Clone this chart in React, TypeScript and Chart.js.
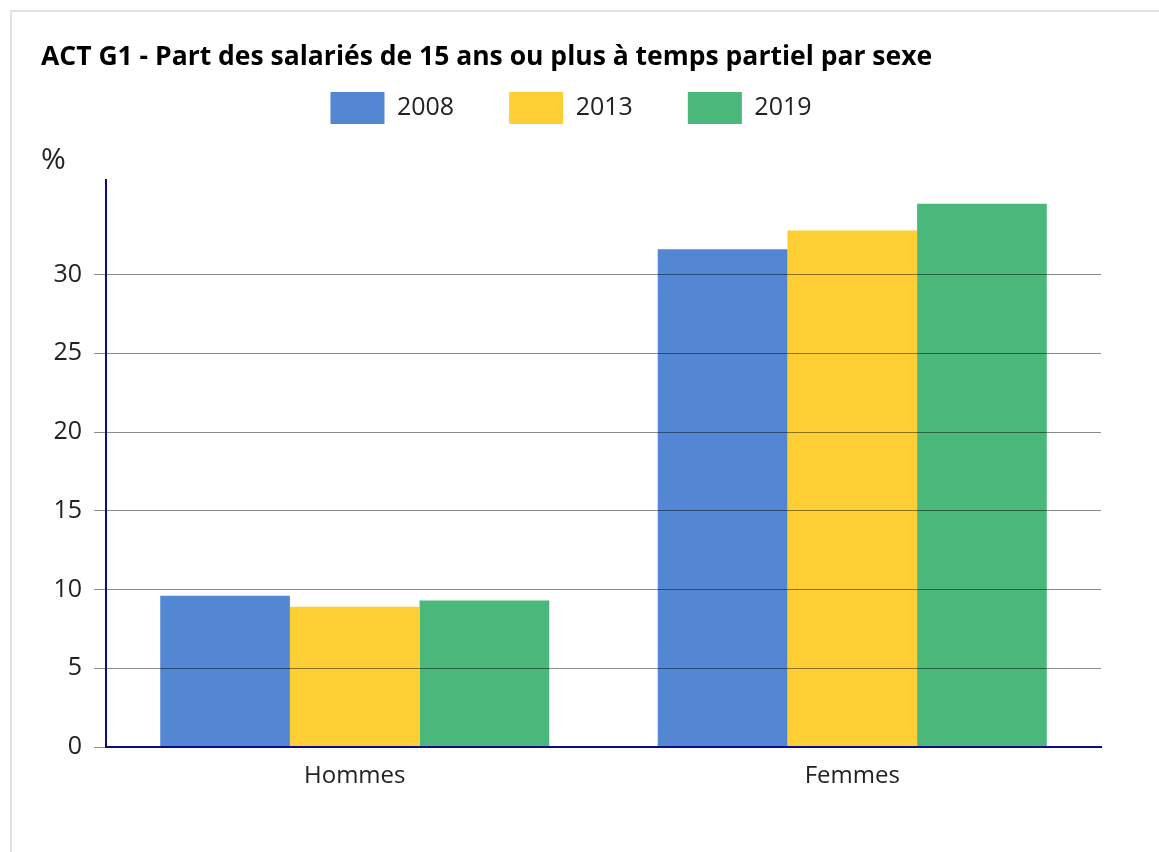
import React, { useEffect, useRef } from "react";
import { Chart, registerables } from "chart.js";

Chart.register(...registerables);

const chartTitle = "ACT G1 - Part des salariés de 15 ans ou plus à temps partiel par sexe";
const unitLabel = "%";
const categories = ["Hommes", "Femmes"];
const seriesNames = ["2008", "2013", "2019"];
const values2008 = [9.6, 31.6];
const values2013 = [8.9, 32.8];
const values2019 = [9.3, 34.5];
const yTicks = [0, 5, 10, 15, 20, 25, 30];
const yMax = 36;
const seriesColors = ["#5387d3", "#fecf35", "#4ab77b"];

export default function App() {
  const ref = useRef<HTMLCanvasElement | null>(null);

  useEffect(() => {
    if (!ref.current) return;
    Chart.defaults.font.family = "'Open Sans', 'Noto Sans', sans-serif";
    const seriesValues = [values2008, values2013, values2019];
    const chart = new Chart(ref.current, {
      type: "bar",
      data: {
        labels: categories,
        datasets: seriesNames.map((name, i) => ({
          label: name,
          data: seriesValues[i],
          backgroundColor: seriesColors[i],
          borderWidth: 0,
          categoryPercentage: 0.782,
          barPercentage: 1.0,
        })),
      },
      options: {
        responsive: false,
        animation: false,
        devicePixelRatio: 1,
        layout: { padding: { left: 41, right: 58, top: 0, bottom: 0 } },
        plugins: {
          title: {
            display: true,
            text: chartTitle,
            align: "start",
            color: "#000",
            font: { size: 26.5, weight: "bold" },
            padding: { top: 42, bottom: -36.8 },
          },
          legend: {
            position: "top",
            align: "center",
            labels: {
              boxWidth: 54,
              boxHeight: 32,
              padding: 55,
              color: "#222",
              font: { size: 25 },
            },
          },
          subtitle: {
            display: true,
            text: unitLabel,
            align: "start",
            position: "top",
            weight: 500,
            color: "#222",
            font: { size: 30 },
            padding: { top: 8, bottom: 2 },
          },
          tooltip: { enabled: false },
        },
        scales: {
          x: {
            grid: { display: false, drawTicks: false },
            border: { display: true, color: "#0c0c8a", width: 2, z: 2 },
            ticks: { color: "#222", font: { size: 24 }, padding: 15 },
            afterFit: (s: any) => {
              s.height = 105;
            },
          },
          y: {
            min: 0,
            max: yMax,
            afterBuildTicks: (s: any) => {
              s.ticks = yTicks.map((v) => ({ value: v }));
            },
            grid: { color: "rgba(0,0,0,0.45)", tickLength: 12, z: 1 },
            border: { display: true, color: "#0c0c8a", width: 2, z: 2 },
            ticks: { color: "#222", font: { size: 25 }, padding: 12 },
            afterFit: (s: any) => {
              s.width = 65;
            },
          },
        },
      },
    } as any);
    return () => chart.destroy();
  }, []);

  return (
    <>
      <div style={{ position: "fixed", left: 0, top: 0, width: 1159, height: 852, background: "#fff" }}>
        <canvas ref={ref} width={1159} height={852} style={{ display: "block", width: 1159, height: 852 }} />
      </div>
      <div
        style={{
          position: "fixed",
          left: 10,
          top: 10,
          width: 1300,
          height: 1000,
          borderTop: "2px solid #e2e2e2",
          borderLeft: "2px solid #e2e2e2",
          pointerEvents: "none",
        }}
      />
    </>
  );
}
